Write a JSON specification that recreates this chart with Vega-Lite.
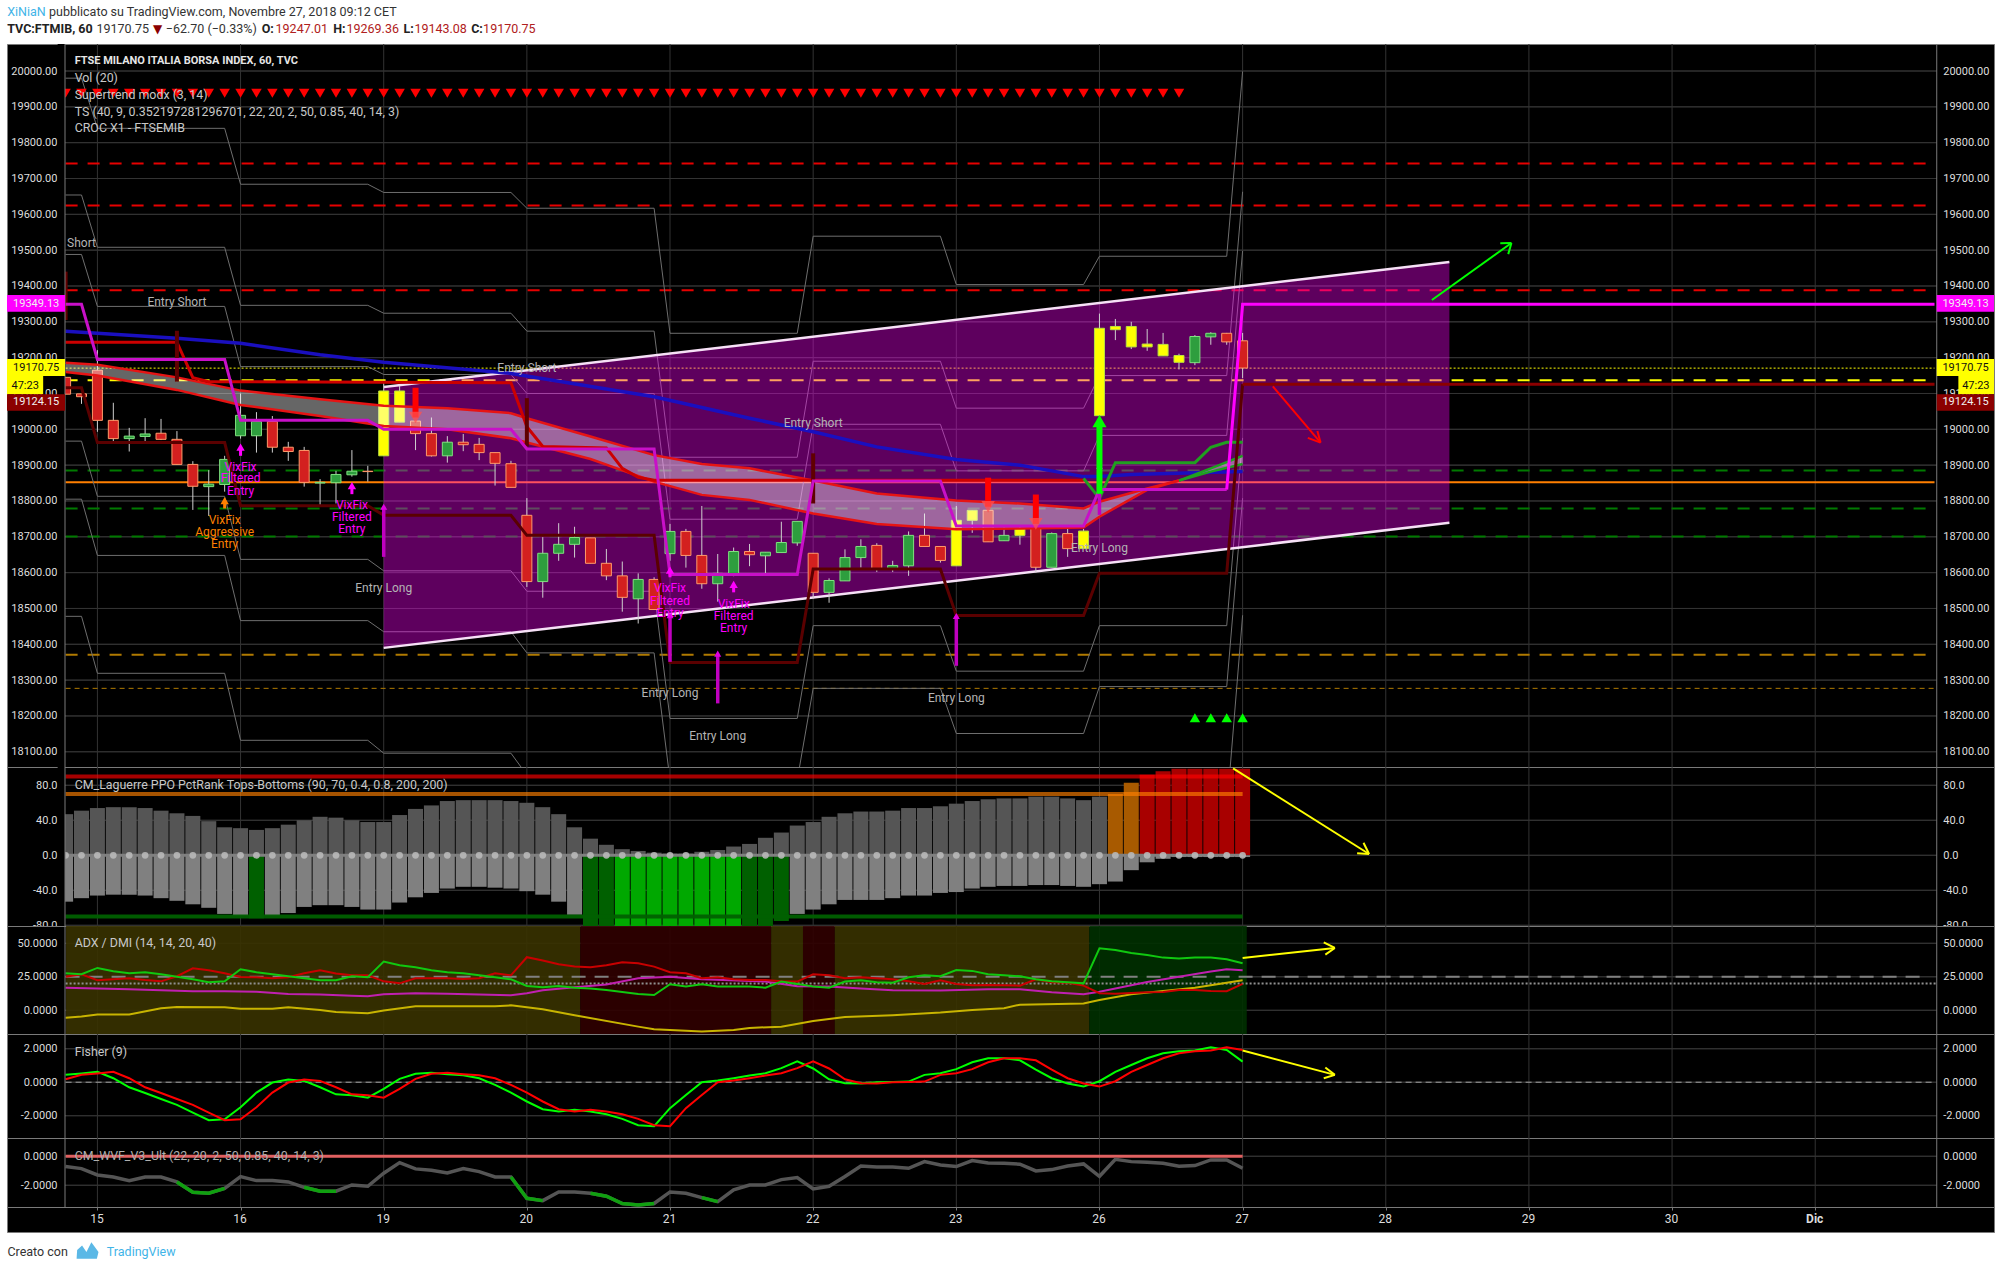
{"$schema":"https://vega.github.io/schema/vega-lite/v6.json","background":"#ffffff","padding":{"left":6,"top":0,"right":0,"bottom":0},"bounds":"flush","spacing":0,"resolve":{"scale":{"color":"independent","stroke":"independent"}},
"config":{"view":{"stroke":null},"axis":{"disable":true,"grid":false,"ticks":false,"domain":false,"labelFont":"Roboto","labelFontSize":11,"labelColor":"#dddddd","labelOverlap":false,"labelFlush":false,"title":null},"text":{"font":"Roboto","fontSize":12}},
"datasets":{
"days":[{"i":0},{"i":9},{"i":18},{"i":27},{"i":36},{"i":45},{"i":54},{"i":63},{"i":72},{"i":81},{"i":90},{"i":99},{"i":108}],
"edges":[{"i":-2.037},{"i":115.64}],
"mask":[{"a":-2.5,"b":-2.037}],
"mainTicks":[{"v":18100,"a":-2.037,"b":115.64},{"v":18200,"a":-2.037,"b":115.64},{"v":18300,"a":-2.037,"b":115.64},{"v":18400,"a":-2.037,"b":115.64},{"v":18500,"a":-2.037,"b":115.64},{"v":18600,"a":-2.037,"b":115.64},{"v":18700,"a":-2.037,"b":115.64},{"v":18800,"a":-2.037,"b":115.64},{"v":18900,"a":-2.037,"b":115.64},{"v":19000,"a":-2.037,"b":115.64},{"v":19100,"a":-2.037,"b":115.64},{"v":19200,"a":-2.037,"b":115.64},{"v":19300,"a":-2.037,"b":115.64},{"v":19400,"a":-2.037,"b":115.64},{"v":19500,"a":-2.037,"b":115.64},{"v":19600,"a":-2.037,"b":115.64},{"v":19700,"a":-2.037,"b":115.64},{"v":19800,"a":-2.037,"b":115.64},{"v":19900,"a":-2.037,"b":115.64},{"v":20000,"a":-2.037,"b":115.64}],
"pivots":[{"i":-2,"a":19980,"b":19654,"c":19488,"d":18967,"e":18805,"f":18478},{"i":-1,"a":19980,"b":19654,"c":19488,"d":18967,"e":18805,"f":18478},{"i":0,"a":19840,"b":19508,"c":19343,"d":18813,"e":18648,"f":18319},{"i":8,"a":19840,"b":19508,"c":19343,"d":18813,"e":18648,"f":18319},{"i":9,"a":19684,"b":19346,"c":19175,"d":18637,"e":18466,"f":18132},{"i":17,"a":19684,"b":19346,"c":19175,"d":18637,"e":18466,"f":18132},{"i":18,"a":19661,"b":19324,"c":19153,"d":18605,"e":18435,"f":18096},{"i":26,"a":19661,"b":19324,"c":19153,"d":18605,"e":18435,"f":18096},{"i":27,"a":19617,"b":19274,"c":19100,"d":18548,"e":18376,"f":18035},{"i":35,"a":19617,"b":19274,"c":19100,"d":18548,"e":18376,"f":18035},{"i":36,"a":19268,"b":18922,"c":18749,"d":18193,"e":18021,"f":17672},{"i":44,"a":19268,"b":18922,"c":18749,"d":18193,"e":18021,"f":17672},{"i":45,"a":19539,"b":19190,"c":19014,"d":18452,"e":18277,"f":17932},{"i":53,"a":19539,"b":19190,"c":19014,"d":18452,"e":18277,"f":17932},{"i":54,"a":19404,"b":19059,"c":18884,"d":18325,"e":18151,"f":17798},{"i":62,"a":19404,"b":19059,"c":18884,"d":18325,"e":18151,"f":17798},{"i":63,"a":19483,"b":19150,"c":18983,"d":18452,"e":18282,"f":17937},{"i":71,"a":19483,"b":19150,"c":18983,"d":18452,"e":18282,"f":17937},{"i":72,"a":19999,"b":19663,"c":19498,"d":18976,"e":18808,"f":18481}],
"channel":[{"i":18,"v":19118,"v2":18390},{"i":85,"v":19467,"v2":18739}],
"blue":[{"i":-2,"v":19274},{"i":5,"v":19254},{"i":9,"v":19240},{"i":14,"v":19208},{"i":18,"v":19187},{"i":26,"v":19156},{"i":35,"v":19091},{"i":41,"v":19031},{"i":45,"v":18993},{"i":49,"v":18951},{"i":54,"v":18916},{"i":58,"v":18900},{"i":62,"v":18868},{"i":63,"v":18868},{"i":65,"v":18874},{"i":72,"v":18882}],
"candles":[{"i":-2,"o":19145,"h":19145,"l":19098,"c":19098,"k":"down"},{"i":-1,"o":19099,"h":19099,"l":19071,"c":19091,"k":"down"},{"i":0,"o":19165,"h":19221,"l":18993,"c":19025,"k":"down"},{"i":1,"o":19025,"h":19074,"l":18966,"c":18974,"k":"down"},{"i":2,"o":18974,"h":19004,"l":18938,"c":18981,"k":"up"},{"i":3,"o":18980,"h":19031,"l":18967,"c":18987,"k":"up"},{"i":4,"o":18989,"h":19029,"l":18970,"c":18972,"k":"down"},{"i":5,"o":18972,"h":18995,"l":18902,"c":18902,"k":"down"},{"i":6,"o":18902,"h":18911,"l":18775,"c":18841,"k":"down"},{"i":7,"o":18840,"h":18886,"l":18758,"c":18847,"k":"up"},{"i":8,"o":18846,"h":18926,"l":18826,"c":18916,"k":"up"},{"i":9,"o":18982,"h":19100,"l":18974,"c":19039,"k":"up"},{"i":10,"o":18982,"h":19048,"l":18935,"c":19022,"k":"up"},{"i":11,"o":19022,"h":19037,"l":18935,"c":18950,"k":"down"},{"i":12,"o":18950,"h":18965,"l":18912,"c":18938,"k":"down"},{"i":13,"o":18941,"h":18951,"l":18840,"c":18852,"k":"down"},{"i":14,"o":18850,"h":18861,"l":18784,"c":18852,"k":"up"},{"i":15,"o":18851,"h":18884,"l":18793,"c":18874,"k":"up"},{"i":16,"o":18873,"h":18942,"l":18868,"c":18883,"k":"up"},{"i":17,"o":18883,"h":18898,"l":18854,"c":18882,"k":"down"},{"i":18,"o":18926,"h":19136,"l":18926,"c":19107,"k":"hi"},{"i":19,"o":19107,"h":19121,"l":19020,"c":19020,"k":"hi"},{"i":20,"o":19023,"h":19023,"l":18942,"c":18988,"k":"down"},{"i":21,"o":18988,"h":19033,"l":18924,"c":18926,"k":"down"},{"i":22,"o":18926,"h":18981,"l":18907,"c":18964,"k":"up"},{"i":23,"o":18964,"h":18987,"l":18939,"c":18957,"k":"down"},{"i":24,"o":18958,"h":18976,"l":18914,"c":18935,"k":"down"},{"i":25,"o":18935,"h":18935,"l":18843,"c":18905,"k":"down"},{"i":26,"o":18904,"h":18912,"l":18838,"c":18838,"k":"down"},{"i":27,"o":18760,"h":18808,"l":18560,"c":18575,"k":"down"},{"i":28,"o":18575,"h":18699,"l":18530,"c":18654,"k":"up"},{"i":29,"o":18654,"h":18738,"l":18633,"c":18679,"k":"up"},{"i":30,"o":18679,"h":18728,"l":18642,"c":18698,"k":"up"},{"i":31,"o":18697,"h":18697,"l":18626,"c":18626,"k":"down"},{"i":32,"o":18626,"h":18666,"l":18579,"c":18591,"k":"down"},{"i":33,"o":18591,"h":18631,"l":18491,"c":18531,"k":"down"},{"i":34,"o":18527,"h":18598,"l":18458,"c":18581,"k":"up"},{"i":35,"o":18581,"h":18587,"l":18497,"c":18497,"k":"down"},{"i":36,"o":18653,"h":18736,"l":18633,"c":18715,"k":"up"},{"i":37,"o":18715,"h":18722,"l":18614,"c":18648,"k":"down"},{"i":38,"o":18648,"h":18786,"l":18555,"c":18569,"k":"down"},{"i":39,"o":18569,"h":18652,"l":18519,"c":18598,"k":"up"},{"i":40,"o":18597,"h":18670,"l":18590,"c":18659,"k":"up"},{"i":41,"o":18659,"h":18680,"l":18618,"c":18650,"k":"down"},{"i":42,"o":18647,"h":18657,"l":18598,"c":18657,"k":"up"},{"i":43,"o":18656,"h":18742,"l":18656,"c":18684,"k":"up"},{"i":44,"o":18683,"h":18743,"l":18675,"c":18743,"k":"up"},{"i":45,"o":18654,"h":18654,"l":18528,"c":18545,"k":"down"},{"i":46,"o":18545,"h":18584,"l":18516,"c":18578,"k":"up"},{"i":47,"o":18577,"h":18665,"l":18577,"c":18642,"k":"up"},{"i":48,"o":18642,"h":18693,"l":18614,"c":18673,"k":"up"},{"i":49,"o":18676,"h":18682,"l":18602,"c":18610,"k":"down"},{"i":50,"o":18611,"h":18633,"l":18602,"c":18620,"k":"up"},{"i":51,"o":18619,"h":18715,"l":18591,"c":18704,"k":"up"},{"i":52,"o":18704,"h":18765,"l":18673,"c":18673,"k":"down"},{"i":53,"o":18673,"h":18673,"l":18628,"c":18634,"k":"down"},{"i":54,"o":18619,"h":18786,"l":18619,"c":18746,"k":"hi"},{"i":55,"o":18746,"h":18774,"l":18711,"c":18774,"k":"hi"},{"i":56,"o":18774,"h":18774,"l":18686,"c":18686,"k":"down"},{"i":57,"o":18689,"h":18726,"l":18689,"c":18704,"k":"up"},{"i":58,"o":18704,"h":18730,"l":18678,"c":18722,"k":"hi"},{"i":59,"o":18726,"h":18728,"l":18600,"c":18615,"k":"down"},{"i":60,"o":18615,"h":18712,"l":18615,"c":18709,"k":"up"},{"i":61,"o":18709,"h":18728,"l":18644,"c":18667,"k":"down"},{"i":62,"o":18667,"h":18722,"l":18667,"c":18716,"k":"hi"},{"i":63,"o":19038,"h":19323,"l":19038,"c":19282,"k":"hi"},{"i":64,"o":19278,"h":19308,"l":19249,"c":19287,"k":"hi"},{"i":65,"o":19287,"h":19300,"l":19224,"c":19230,"k":"hi"},{"i":66,"o":19230,"h":19280,"l":19219,"c":19238,"k":"hi"},{"i":67,"o":19237,"h":19269,"l":19205,"c":19205,"k":"hi"},{"i":68,"o":19206,"h":19211,"l":19167,"c":19187,"k":"hi"},{"i":69,"o":19186,"h":19263,"l":19179,"c":19259,"k":"up"},{"i":70,"o":19258,"h":19271,"l":19236,"c":19268,"k":"up"},{"i":71,"o":19268,"h":19269,"l":19236,"c":19244,"k":"down"},{"i":72,"o":19247,"h":19269,"l":19143,"c":19171,"k":"down"}],
"band":[{"i":-2,"top":19186,"bot":19160},{"i":0,"top":19180,"bot":19150},{"i":5,"top":19145,"bot":19110},{"i":9,"top":19108,"bot":19068},{"i":14,"top":19084,"bot":19037},{"i":18,"top":19066,"bot":19009},{"i":22,"top":19059,"bot":19000},{"i":26,"top":19045,"bot":18975},{"i":27,"top":19031,"bot":18963},{"i":31,"top":18980,"bot":18917},{"i":35,"top":18928,"bot":18854},{"i":38,"top":18903,"bot":18817},{"i":41,"top":18891,"bot":18803},{"i":45,"top":18857,"bot":18765},{"i":49,"top":18821,"bot":18736},{"i":54,"top":18801,"bot":18721},{"i":58,"top":18793,"bot":18723},{"i":62,"top":18779,"bot":18726},{"i":63,"top":18798,"bot":18756},{"i":66,"top":18835,"bot":18831},{"i":68,"top":18857,"bot":18857},{"i":70,"top":18891,"bot":18882},{"i":72,"top":18926,"bot":18903}],
"red":[{"i":-2,"v":19243},{"i":5,"v":19243},{"i":6,"v":19144},{"i":7,"v":19133},{"i":26,"v":19130},{"i":27,"v":19007},{"i":28,"v":18952},{"i":32,"v":18948},{"i":33,"v":18891},{"i":34,"v":18866},{"i":35,"v":18858},{"i":62,"v":18858}],
"green":[{"i":62,"v":18863},{"i":63,"v":18807},{"i":64,"v":18907},{"i":69,"v":18907},{"i":70,"v":18950},{"i":71,"v":18964},{"i":72,"v":18964}],
"maroon":[{"i":-2,"v":19116},{"i":-1,"v":19116},{"i":0,"v":18963},{"i":8,"v":18963},{"i":9,"v":18787},{"i":17,"v":18787},{"i":18,"v":18760},{"i":26,"v":18760},{"i":27,"v":18704},{"i":35,"v":18704},{"i":36,"v":18349},{"i":44,"v":18349},{"i":45,"v":18610},{"i":53,"v":18610},{"i":54,"v":18480},{"i":62,"v":18480},{"i":63,"v":18598},{"i":71,"v":18598},{"i":72,"v":19126},{"i":115.5,"v":19126}],
"magenta":[{"i":-2,"v":19349},{"i":-1,"v":19349},{"i":0,"v":19195},{"i":8,"v":19195},{"i":9,"v":19025},{"i":17,"v":19025},{"i":18,"v":19000},{"i":26,"v":19000},{"i":27,"v":18945},{"i":35,"v":18945},{"i":36,"v":18595},{"i":44,"v":18595},{"i":45,"v":18856},{"i":53,"v":18856},{"i":54,"v":18730},{"i":62,"v":18730},{"i":63,"v":18832},{"i":71,"v":18832},{"i":72,"v":19349},{"i":115.5,"v":19349}],
"darkArrows":[{"i":-2,"v":19440,"v2":19305},{"i":5,"v":19275,"v2":19133},{"i":27,"v":19087,"v2":18952},{"i":45,"v":18933,"v2":18793}],
"upArrows":[{"i":18,"v":18784,"v2":18644},{"i":36,"v":18481,"v2":18351},{"i":39,"v":18374,"v2":18235},{"i":54,"v":18479,"v2":18340},{"i":63,"v":18898,"v2":18761}],
"redArrows":[{"i":20,"v":19116,"v2":19033},{"i":56,"v":18865,"v2":18784},{"i":59,"v":18818,"v2":18736}],
"bigGreen":[{"i":63,"v":19023,"v2":18820}],
"smallUp":[{"i":9,"v":18950,"v2":18926},{"i":16,"v":18843,"v2":18819},{"i":36,"v":18607,"v2":18587},{"i":40,"v":18567,"v2":18545}],
"smallOrange":[{"i":8,"v":18801,"v2":18779}],
"topTri":[{"i":-2,"v":19938},{"i":-1,"v":19938},{"i":0,"v":19938},{"i":1,"v":19938},{"i":2,"v":19938},{"i":3,"v":19938},{"i":4,"v":19938},{"i":5,"v":19938},{"i":6,"v":19938},{"i":7,"v":19938},{"i":8,"v":19938},{"i":9,"v":19938},{"i":10,"v":19938},{"i":11,"v":19938},{"i":12,"v":19938},{"i":13,"v":19938},{"i":14,"v":19938},{"i":15,"v":19938},{"i":16,"v":19938},{"i":17,"v":19938},{"i":18,"v":19938},{"i":19,"v":19938},{"i":20,"v":19938},{"i":21,"v":19938},{"i":22,"v":19938},{"i":23,"v":19938},{"i":24,"v":19938},{"i":25,"v":19938},{"i":26,"v":19938},{"i":27,"v":19938},{"i":28,"v":19938},{"i":29,"v":19938},{"i":30,"v":19938},{"i":31,"v":19938},{"i":32,"v":19938},{"i":33,"v":19938},{"i":34,"v":19938},{"i":35,"v":19938},{"i":36,"v":19938},{"i":37,"v":19938},{"i":38,"v":19938},{"i":39,"v":19938},{"i":40,"v":19938},{"i":41,"v":19938},{"i":42,"v":19938},{"i":43,"v":19938},{"i":44,"v":19938},{"i":45,"v":19938},{"i":46,"v":19938},{"i":47,"v":19938},{"i":48,"v":19938},{"i":49,"v":19938},{"i":50,"v":19938},{"i":51,"v":19938},{"i":52,"v":19938},{"i":53,"v":19938},{"i":54,"v":19938},{"i":55,"v":19938},{"i":56,"v":19938},{"i":57,"v":19938},{"i":58,"v":19938},{"i":59,"v":19938},{"i":60,"v":19938},{"i":61,"v":19938},{"i":62,"v":19938},{"i":63,"v":19938},{"i":64,"v":19938},{"i":65,"v":19938},{"i":66,"v":19938},{"i":67,"v":19938},{"i":68,"v":19938}],
"grayText":[{"i":5,"v":19356,"t":"Entry Short"},{"i":27,"v":19170,"t":"Entry Short"},{"i":45,"v":19017,"t":"Entry Short"},{"i":-1,"v":19521,"t":"Short"},{"i":18,"v":18556,"t":"Entry Long"},{"i":36,"v":18263,"t":"Entry Long"},{"i":39,"v":18145,"t":"Entry Long"},{"i":54,"v":18251,"t":"Entry Long"},{"i":63,"v":18670,"t":"Entry Long"}],
"vixText":[{"i":9,"v":18894,"t":"VixFix"},{"i":9,"v":18863,"t":"Filtered"},{"i":9,"v":18829,"t":"Entry"},{"i":16,"v":18789,"t":"VixFix"},{"i":16,"v":18756,"t":"Filtered"},{"i":16,"v":18723,"t":"Entry"},{"i":36,"v":18556,"t":"VixFix"},{"i":36,"v":18522,"t":"Filtered"},{"i":36,"v":18488,"t":"Entry"},{"i":40,"v":18513,"t":"VixFix"},{"i":40,"v":18480,"t":"Filtered"},{"i":40,"v":18446,"t":"Entry"}],
"orangeText":[{"i":8,"v":18747,"t":"VixFix"},{"i":8,"v":18713,"t":"Aggressive"},{"i":8,"v":18681,"t":"Entry"}],
"legendMain":[{"i":-1.43,"v":19981,"t":"Vol (20)"},{"i":-1.43,"v":19934,"t":"Supertrend modx (3, 14)"},{"i":-1.43,"v":19886,"t":"TS (40, 9, 0.352197281296701, 22, 20, 2, 50, 0.85, 40, 14, 3)"},{"i":-1.43,"v":19840,"t":"CROC X1 - FTSEMIB"}],
"boxes":[{"a":-5.684,"b":-2.037,"top":19375,"bot":19328,"k":"mag"},{"a":-5.684,"b":-2.037,"top":19196,"bot":19149,"k":"yel"},{"a":-5.684,"b":-3.41,"top":19149,"bot":19098,"k":"yel"},{"a":-5.684,"b":-2.037,"top":19098,"bot":19052,"k":"mar"},{"a":115.64,"b":119.24,"top":19375,"bot":19328,"k":"mag"},{"a":115.64,"b":119.24,"top":19196,"bot":19149,"k":"yel"},{"a":117.0,"b":119.24,"top":19149,"bot":19098,"k":"yel"},{"a":115.64,"b":119.24,"top":19098,"bot":19052,"k":"mar"}],
"boxText":[{"i":-3.85,"v":19351,"t":"19349.13","k":"tw"},{"i":-3.85,"v":19172,"t":"19170.75","k":"tk"},{"i":-4.54,"v":19122,"t":"47:23","k":"tk"},{"i":-3.85,"v":19075,"t":"19124.15","k":"tw"},{"i":117.45,"v":19351,"t":"19349.13","k":"tw"},{"i":117.45,"v":19172,"t":"19170.75","k":"tk"},{"i":118.1,"v":19122,"t":"47:23","k":"tk"},{"i":117.45,"v":19075,"t":"19124.15","k":"tw"}],
"arrowGreen":[{"i":83.9,"x2":88.9,"v":19361,"v2":19520},{"i":88.2,"x2":88.9,"v":19519,"v2":19520},{"i":88.7,"x2":88.9,"v":19489,"v2":19520}],
"arrowRed":[{"i":73.9,"x2":76.9,"v":19120,"v2":18963},{"i":76.1,"x2":76.9,"v":18976,"v2":18963},{"i":76.7,"x2":76.9,"v":18995,"v2":18963}],
"lag":[{"i":-2,"up":47,"dn":-53,"us":"gray","ds":"light"},{"i":-1,"up":51,"dn":-49,"us":"gray","ds":"light"},{"i":0,"up":54,"dn":-46,"us":"gray","ds":"light"},{"i":1,"up":55,"dn":-45,"us":"gray","ds":"light"},{"i":2,"up":55,"dn":-45,"us":"gray","ds":"light"},{"i":3,"up":54,"dn":-46,"us":"gray","ds":"light"},{"i":4,"up":51,"dn":-49,"us":"gray","ds":"light"},{"i":5,"up":48,"dn":-52,"us":"gray","ds":"light"},{"i":6,"up":45,"dn":-56,"us":"gray","ds":"light"},{"i":7,"up":39,"dn":-60,"us":"gray","ds":"light"},{"i":8,"up":32,"dn":-67,"us":"gray","ds":"light"},{"i":9,"up":31,"dn":-69,"us":"gray","ds":"light"},{"i":10,"up":29,"dn":-72,"us":"gray","ds":"dark"},{"i":11,"up":31,"dn":-69,"us":"gray","ds":"light"},{"i":12,"up":35,"dn":-66,"us":"gray","ds":"light"},{"i":13,"up":40,"dn":-59,"us":"gray","ds":"light"},{"i":14,"up":44,"dn":-57,"us":"gray","ds":"light"},{"i":15,"up":43,"dn":-57,"us":"gray","ds":"light"},{"i":16,"up":40,"dn":-59,"us":"gray","ds":"light"},{"i":17,"up":38,"dn":-62,"us":"gray","ds":"light"},{"i":18,"up":38,"dn":-62,"us":"gray","ds":"light"},{"i":19,"up":46,"dn":-54,"us":"gray","ds":"light"},{"i":20,"up":53,"dn":-48,"us":"gray","ds":"light"},{"i":21,"up":57,"dn":-43,"us":"gray","ds":"light"},{"i":22,"up":62,"dn":-38,"us":"gray","ds":"light"},{"i":23,"up":63,"dn":-36,"us":"gray","ds":"light"},{"i":24,"up":63,"dn":-36,"us":"gray","ds":"light"},{"i":25,"up":63,"dn":-37,"us":"gray","ds":"light"},{"i":26,"up":62,"dn":-38,"us":"gray","ds":"light"},{"i":27,"up":60,"dn":-41,"us":"gray","ds":"light"},{"i":28,"up":55,"dn":-45,"us":"gray","ds":"light"},{"i":29,"up":47,"dn":-53,"us":"gray","ds":"light"},{"i":30,"up":32,"dn":-68,"us":"gray","ds":"light"},{"i":31,"up":19,"dn":-85,"us":"gray","ds":"dark"},{"i":32,"up":12,"dn":-85,"us":"gray","ds":"dark"},{"i":33,"up":7,"dn":-85,"us":"gray","ds":"bright"},{"i":34,"up":5,"dn":-85,"us":"gray","ds":"bright"},{"i":35,"up":3,"dn":-85,"us":"gray","ds":"bright"},{"i":36,"up":2,"dn":-85,"us":"gray","ds":"bright"},{"i":37,"up":2,"dn":-85,"us":"gray","ds":"bright"},{"i":38,"up":4,"dn":-85,"us":"gray","ds":"bright"},{"i":39,"up":6,"dn":-85,"us":"gray","ds":"bright"},{"i":40,"up":10,"dn":-85,"us":"gray","ds":"bright"},{"i":41,"up":13,"dn":-85,"us":"gray","ds":"dark"},{"i":42,"up":20,"dn":-85,"us":"gray","ds":"dark"},{"i":43,"up":26,"dn":-75,"us":"gray","ds":"dark"},{"i":44,"up":34,"dn":-67,"us":"gray","ds":"light"},{"i":45,"up":38,"dn":-62,"us":"gray","ds":"light"},{"i":46,"up":44,"dn":-56,"us":"gray","ds":"light"},{"i":47,"up":48,"dn":-51,"us":"gray","ds":"light"},{"i":48,"up":50,"dn":-51,"us":"gray","ds":"light"},{"i":49,"up":50,"dn":-51,"us":"gray","ds":"light"},{"i":50,"up":51,"dn":-49,"us":"gray","ds":"light"},{"i":51,"up":54,"dn":-46,"us":"gray","ds":"light"},{"i":52,"up":54,"dn":-46,"us":"gray","ds":"light"},{"i":53,"up":56,"dn":-43,"us":"gray","ds":"light"},{"i":54,"up":59,"dn":-42,"us":"gray","ds":"light"},{"i":55,"up":62,"dn":-38,"us":"gray","ds":"light"},{"i":56,"up":64,"dn":-36,"us":"gray","ds":"light"},{"i":57,"up":65,"dn":-35,"us":"gray","ds":"light"},{"i":58,"up":65,"dn":-35,"us":"gray","ds":"light"},{"i":59,"up":67,"dn":-34,"us":"gray","ds":"light"},{"i":60,"up":67,"dn":-34,"us":"gray","ds":"light"},{"i":61,"up":65,"dn":-35,"us":"gray","ds":"light"},{"i":62,"up":63,"dn":-36,"us":"gray","ds":"light"},{"i":63,"up":67,"dn":-33,"us":"gray","ds":"light"},{"i":64,"up":70,"dn":-30,"us":"orange","ds":"light"},{"i":65,"up":83,"dn":-17,"us":"orange","ds":"light"},{"i":66,"up":92,"dn":-8,"us":"red","ds":"light"},{"i":67,"up":96,"dn":-4,"us":"red","ds":"light"},{"i":68,"up":99,"dn":-2,"us":"red","ds":"light"},{"i":69,"up":99,"dn":-2,"us":"red","ds":"light"},{"i":70,"up":99,"dn":-2,"us":"red","ds":"light"},{"i":71,"up":99,"dn":-2,"us":"red","ds":"light"},{"i":72,"up":99,"dn":-2,"us":"red","ds":"light"}],
"lagDots":[{"i":-2,"v":0},{"i":-1,"v":0},{"i":0,"v":0},{"i":1,"v":0},{"i":2,"v":0},{"i":3,"v":0},{"i":4,"v":0},{"i":5,"v":0},{"i":6,"v":0},{"i":7,"v":0},{"i":8,"v":0},{"i":9,"v":0},{"i":10,"v":0},{"i":11,"v":0},{"i":12,"v":0},{"i":13,"v":0},{"i":14,"v":0},{"i":15,"v":0},{"i":16,"v":0},{"i":17,"v":0},{"i":18,"v":0},{"i":19,"v":0},{"i":20,"v":0},{"i":21,"v":0},{"i":22,"v":0},{"i":23,"v":0},{"i":24,"v":0},{"i":25,"v":0},{"i":26,"v":0},{"i":27,"v":0},{"i":28,"v":0},{"i":29,"v":0},{"i":30,"v":0},{"i":31,"v":0},{"i":32,"v":0},{"i":33,"v":0},{"i":34,"v":0},{"i":35,"v":0},{"i":36,"v":0},{"i":37,"v":0},{"i":38,"v":0},{"i":39,"v":0},{"i":40,"v":0},{"i":41,"v":0},{"i":42,"v":0},{"i":43,"v":0},{"i":44,"v":0},{"i":45,"v":0},{"i":46,"v":0},{"i":47,"v":0},{"i":48,"v":0},{"i":49,"v":0},{"i":50,"v":0},{"i":51,"v":0},{"i":52,"v":0},{"i":53,"v":0},{"i":54,"v":0},{"i":55,"v":0},{"i":56,"v":0},{"i":57,"v":0},{"i":58,"v":0},{"i":59,"v":0},{"i":60,"v":0},{"i":61,"v":0},{"i":62,"v":0},{"i":63,"v":0},{"i":64,"v":0},{"i":65,"v":0},{"i":66,"v":0},{"i":67,"v":0},{"i":68,"v":0},{"i":69,"v":0},{"i":70,"v":0},{"i":71,"v":0},{"i":72,"v":0}],
"adxBg":[{"a":-1.97,"b":30.36,"s":"olive"},{"a":30.36,"b":42.36,"s":"red"},{"a":42.36,"b":44.36,"s":"olive"},{"a":44.36,"b":46.36,"s":"red"},{"a":46.36,"b":62.36,"s":"olive"},{"a":62.36,"b":72.26,"s":"green"}],
"adx":[{"i":-2,"g":27.6,"r":25.1},{"i":-1,"g":26.9,"r":26.9},{"i":0,"g":31.6,"r":22.4},{"i":1,"g":29.1,"r":23.1},{"i":2,"g":27.6,"r":23.9},{"i":3,"g":28.4,"r":22.6},{"i":4,"g":26.9,"r":21.6},{"i":5,"g":25.1,"r":25.4},{"i":6,"g":23.1,"r":31.3},{"i":7,"g":20.9,"r":29.9},{"i":8,"g":21.6,"r":27.6},{"i":9,"g":30.6,"r":24.9},{"i":10,"g":28.4,"r":24.6},{"i":11,"g":26.9,"r":23.9},{"i":12,"g":25.4,"r":24.6},{"i":13,"g":23.9,"r":27.6},{"i":14,"g":22.4,"r":29.9},{"i":15,"g":22.4,"r":27.4},{"i":16,"g":25.4,"r":26.1},{"i":17,"g":24.6,"r":26.1},{"i":18,"g":36.3,"r":21.6},{"i":19,"g":33.6,"r":20.1},{"i":20,"g":32.1,"r":23.9},{"i":21,"g":29.9,"r":23.9},{"i":22,"g":28.4,"r":23.9},{"i":23,"g":27.6,"r":23.4},{"i":24,"g":26.1,"r":23.9},{"i":25,"g":24.6,"r":27.6},{"i":26,"g":23.1,"r":26.1},{"i":27,"g":18.2,"r":39.6},{"i":28,"g":17.2,"r":37.1},{"i":29,"g":18.2,"r":34.3},{"i":30,"g":16.9,"r":32.6},{"i":31,"g":16.2,"r":32.1},{"i":32,"g":15.2,"r":33.6},{"i":33,"g":13.7,"r":35.8},{"i":34,"g":12.2,"r":35.1},{"i":35,"g":11.4,"r":32.6},{"i":36,"g":19.4,"r":28.4},{"i":37,"g":17.7,"r":27.6},{"i":38,"g":19.4,"r":23.9},{"i":39,"g":17.7,"r":24.6},{"i":40,"g":17.7,"r":23.1},{"i":41,"g":17.7,"r":22.6},{"i":42,"g":16.9,"r":22.6},{"i":43,"g":21.4,"r":21.6},{"i":44,"g":19.7,"r":21.4},{"i":45,"g":17.7,"r":26.9},{"i":46,"g":16.9,"r":26.1},{"i":47,"g":21.4,"r":23.9},{"i":48,"g":22.4,"r":24.6},{"i":49,"g":20.9,"r":23.9},{"i":50,"g":20.6,"r":23.1},{"i":51,"g":24.6,"r":21.6},{"i":52,"g":26.1,"r":19.7},{"i":53,"g":25.4,"r":22.4},{"i":54,"g":30.1,"r":19.7},{"i":55,"g":29.4,"r":18.7},{"i":56,"g":26.9,"r":18.9},{"i":57,"g":26.1,"r":18.7},{"i":58,"g":25.4,"r":18.4},{"i":59,"g":23.1,"r":23.1},{"i":60,"g":21.6,"r":20.9},{"i":61,"g":20.9,"r":20.6},{"i":62,"g":20.1,"r":18.4},{"i":63,"g":46.3,"r":12.7},{"i":64,"g":45.0,"r":12.4},{"i":65,"g":42.8,"r":12.9},{"i":66,"g":41.3,"r":13.4},{"i":67,"g":39.3,"r":13.7},{"i":68,"g":38.6,"r":15.2},{"i":69,"g":39.3,"r":15.2},{"i":70,"g":39.3,"r":14.4},{"i":71,"g":38.1,"r":14.2},{"i":72,"g":35.1,"r":19.7}],
"adxM":[{"i":-2,"v":16.9},{"i":0,"v":16.2},{"i":2,"v":15.7},{"i":4,"v":14.9},{"i":6,"v":14.2},{"i":8,"v":14.2},{"i":10,"v":13.9},{"i":12,"v":12.2},{"i":14,"v":11.7},{"i":16,"v":10.9},{"i":17,"v":10.4},{"i":18,"v":11.9},{"i":20,"v":12.7},{"i":22,"v":12.4},{"i":24,"v":11.7},{"i":26,"v":11.2},{"i":27,"v":12.7},{"i":28,"v":14.9},{"i":30,"v":17.2},{"i":32,"v":19.2},{"i":34,"v":23.9},{"i":36,"v":25.1},{"i":38,"v":23.1},{"i":42,"v":21.4},{"i":44,"v":17.9},{"i":46,"v":17.7},{"i":48,"v":16.2},{"i":50,"v":14.9},{"i":53,"v":14.7},{"i":56,"v":15.7},{"i":58,"v":15.7},{"i":60,"v":13.4},{"i":62,"v":11.9},{"i":63,"v":13.9},{"i":66,"v":21.1},{"i":70,"v":28.9},{"i":71,"v":30.6},{"i":72,"v":29.9}],
"adxY":[{"i":-2,"v":-5.5},{"i":-1,"v":-4.7},{"i":0,"v":-3.2},{"i":2,"v":-3.2},{"i":4,"v":1.5},{"i":5,"v":2.5},{"i":8,"v":2.2},{"i":9,"v":1.2},{"i":11,"v":1.2},{"i":12,"v":2.2},{"i":14,"v":0.2},{"i":15,"v":-1.2},{"i":17,"v":-2.2},{"i":18,"v":-0.2},{"i":20,"v":3},{"i":25,"v":3},{"i":26,"v":3.7},{"i":28,"v":0.7},{"i":30,"v":-3.7},{"i":34,"v":-12.2},{"i":35,"v":-14.2},{"i":38,"v":-15.9},{"i":40,"v":-14.7},{"i":41,"v":-13.2},{"i":43,"v":-12.2},{"i":45,"v":-8},{"i":47,"v":-5},{"i":50,"v":-3.7},{"i":53,"v":-1.7},{"i":55,"v":0.2},{"i":57,"v":1.5},{"i":58,"v":4.2},{"i":62,"v":5},{"i":63,"v":7.7},{"i":65,"v":11.9},{"i":69,"v":16.9},{"i":72,"v":22.4}],
"fisher":[{"i":-2,"g":0.44,"r":0.18},{"i":-1,"g":0.52,"r":0.44},{"i":0,"g":0.62,"r":0.52},{"i":1,"g":0.24,"r":0.62},{"i":2,"g":-0.30,"r":0.24},{"i":3,"g":-0.64,"r":-0.30},{"i":4,"g":-1.00,"r":-0.64},{"i":5,"g":-1.35,"r":-1.00},{"i":6,"g":-1.81,"r":-1.35},{"i":7,"g":-2.27,"r":-1.81},{"i":8,"g":-2.21,"r":-2.27},{"i":9,"g":-1.49,"r":-2.21},{"i":10,"g":-0.62,"r":-1.49},{"i":11,"g":-0.02,"r":-0.62},{"i":12,"g":0.16,"r":-0.02},{"i":13,"g":0.08,"r":0.16},{"i":14,"g":-0.30,"r":0.08},{"i":15,"g":-0.72,"r":-0.30},{"i":16,"g":-0.78,"r":-0.72},{"i":17,"g":-0.92,"r":-0.78},{"i":18,"g":-0.40,"r":-0.92},{"i":19,"g":0.20,"r":-0.40},{"i":20,"g":0.50,"r":0.20},{"i":21,"g":0.56,"r":0.50},{"i":22,"g":0.48,"r":0.56},{"i":23,"g":0.42,"r":0.48},{"i":24,"g":0.24,"r":0.42},{"i":25,"g":-0.16,"r":0.24},{"i":26,"g":-0.62,"r":-0.16},{"i":27,"g":-1.15,"r":-0.62},{"i":28,"g":-1.61,"r":-1.15},{"i":29,"g":-1.75,"r":-1.61},{"i":30,"g":-1.65,"r":-1.75},{"i":31,"g":-1.75,"r":-1.65},{"i":32,"g":-1.91,"r":-1.75},{"i":33,"g":-2.19,"r":-1.91},{"i":34,"g":-2.57,"r":-2.19},{"i":35,"g":-2.63,"r":-2.57},{"i":36,"g":-1.55,"r":-2.63},{"i":37,"g":-0.76,"r":-1.55},{"i":38,"g":0,"r":-0.76},{"i":39,"g":0.10,"r":0},{"i":40,"g":0.24,"r":0.10},{"i":41,"g":0.40,"r":0.24},{"i":42,"g":0.54,"r":0.40},{"i":43,"g":0.84,"r":0.54},{"i":44,"g":1.25,"r":0.84},{"i":45,"g":0.82,"r":1.25},{"i":46,"g":0.18,"r":0.82},{"i":47,"g":-0.06,"r":0.18},{"i":48,"g":-0.08,"r":-0.06},{"i":49,"g":0,"r":-0.08},{"i":50,"g":0.02,"r":0},{"i":51,"g":0.04,"r":0.02},{"i":52,"g":0.44,"r":0.04},{"i":53,"g":0.54,"r":0.44},{"i":54,"g":0.78,"r":0.54},{"i":55,"g":1.19,"r":0.78},{"i":56,"g":1.43,"r":1.19},{"i":57,"g":1.43,"r":1.43},{"i":58,"g":1.31,"r":1.43},{"i":59,"g":0.76,"r":1.31},{"i":60,"g":0.24,"r":0.76},{"i":61,"g":-0.08,"r":0.24},{"i":62,"g":-0.26,"r":-0.08},{"i":63,"g":0.06,"r":-0.26},{"i":64,"g":0.62,"r":0.06},{"i":65,"g":1.03,"r":0.62},{"i":66,"g":1.43,"r":1.03},{"i":67,"g":1.73,"r":1.43},{"i":68,"g":1.85,"r":1.73},{"i":69,"g":1.89,"r":1.85},{"i":70,"g":2.09,"r":1.89},{"i":71,"g":1.93,"r":2.09},{"i":72,"g":1.23,"r":1.93}],
"wvf":[{"i":-2,"v":-0.71},{"i":-1,"v":-0.85},{"i":0,"v":-1.29},{"i":1,"v":-1.43},{"i":2,"v":-1.68},{"i":3,"v":-1.43},{"i":4,"v":-1.43},{"i":5,"v":-1.77},{"i":6,"v":-2.48},{"i":7,"v":-2.55},{"i":8,"v":-2.21},{"i":9,"v":-1.40},{"i":10,"v":-1.68},{"i":11,"v":-1.68},{"i":12,"v":-1.77},{"i":13,"v":-2.14},{"i":14,"v":-2.41},{"i":15,"v":-2.41},{"i":16,"v":-1.98},{"i":17,"v":-2.07},{"i":18,"v":-1.17},{"i":19,"v":-0.44},{"i":20,"v":-0.87},{"i":21,"v":-0.97},{"i":22,"v":-1.15},{"i":23,"v":-0.85},{"i":24,"v":-1.06},{"i":25,"v":-1.43},{"i":26,"v":-1.43},{"i":27,"v":-2.90},{"i":28,"v":-3.06},{"i":29,"v":-2.46},{"i":30,"v":-2.46},{"i":31,"v":-2.55},{"i":32,"v":-2.76},{"i":33,"v":-3.26},{"i":34,"v":-3.36},{"i":35,"v":-3.26},{"i":36,"v":-2.46},{"i":37,"v":-2.55},{"i":38,"v":-2.85},{"i":39,"v":-3.13},{"i":40,"v":-2.32},{"i":41,"v":-1.98},{"i":42,"v":-1.98},{"i":43,"v":-1.61},{"i":44,"v":-1.47},{"i":45,"v":-2.25},{"i":46,"v":-2.07},{"i":47,"v":-1.40},{"i":48,"v":-0.67},{"i":49,"v":-0.74},{"i":50,"v":-0.74},{"i":51,"v":-0.83},{"i":52,"v":-0.37},{"i":53,"v":-0.60},{"i":54,"v":-0.71},{"i":55,"v":-0.30},{"i":56,"v":-0.46},{"i":57,"v":-0.48},{"i":58,"v":-0.55},{"i":59,"v":-1.01},{"i":60,"v":-0.92},{"i":61,"v":-0.67},{"i":62,"v":-0.53},{"i":63,"v":-1.38},{"i":64,"v":-0.21},{"i":65,"v":-0.37},{"i":66,"v":-0.41},{"i":67,"v":-0.48},{"i":68,"v":-0.69},{"i":69,"v":-0.64},{"i":70,"v":-0.25},{"i":71,"v":-0.25},{"i":72,"v":-0.83}],
"wvfG":[{"i":5,"v":-1.77,"s":"a"},{"i":6,"v":-2.48,"s":"a"},{"i":7,"v":-2.55,"s":"a"},{"i":8,"v":-2.21,"s":"a"},{"i":13,"v":-2.14,"s":"b"},{"i":14,"v":-2.41,"s":"b"},{"i":15,"v":-2.41,"s":"b"},{"i":26,"v":-1.43,"s":"c"},{"i":27,"v":-2.90,"s":"c"},{"i":28,"v":-3.06,"s":"c"},{"i":31,"v":-2.55,"s":"d"},{"i":32,"v":-2.76,"s":"d"},{"i":33,"v":-3.26,"s":"d"},{"i":34,"v":-3.36,"s":"d"},{"i":35,"v":-3.26,"s":"d"},{"i":38,"v":-2.85,"s":"e"},{"i":39,"v":-3.13,"s":"e"}]
},
"vconcat":[
{"width":1987,"height":44,"view":{"stroke":null,"fill":null},
"encoding":{"x":{"field":"i","type":"quantitative","scale":{"domain":[-5.684,119.24],"nice":false,"zero":false},"title":null},"y":{"field":"v","type":"quantitative","scale":{"domain":[44,0],"nice":false,"zero":false},"title":null},"text":{"field":"t"}},
"layer":[
{"data":{"values":[{"i":-5.67,"v":12,"t":"XiNiaN"}]},"mark":{"type":"text","align":"left","color":"#3fb4e8","fontSize":12.5}},
{"data":{"values":[{"i":-3.04,"v":12,"t":"pubblicato su TradingView.com, Novembre 27, 2018 09:12 CET"},{"i":-0.06,"v":29,"t":"19170.75"},{"i":4.3,"v":29,"t":"−62.70 (−0.33%)"}]},"mark":{"type":"text","align":"left","color":"#333333","fontSize":12.5}},
{"data":{"values":[{"i":-5.67,"v":29,"t":"TVC:FTMIB, 60"},{"i":10.33,"v":29,"t":"O:"},{"i":14.82,"v":29,"t":"H:"},{"i":19.24,"v":29,"t":"L:"},{"i":23.5,"v":29,"t":"C:"}]},"mark":{"type":"text","align":"left","color":"#222222","fontSize":12.5,"fontWeight":"bold"}},
{"data":{"values":[{"i":3.49,"v":29,"t":"▼"}]},"mark":{"type":"text","align":"left","color":"#8b0000","fontSize":12,"font":"DejaVu Sans"}},
{"data":{"values":[{"i":11.2,"v":29,"t":"19247.01"},{"i":15.66,"v":29,"t":"19269.36"},{"i":19.93,"v":29,"t":"19143.08"},{"i":24.25,"v":29,"t":"19170.75"}]},"mark":{"type":"text","align":"left","color":"#b02020","fontSize":12.5}}
]},
{"width":1987,"height":723,"view":{"fill":"#000000","stroke":"#7a7a7a"},"resolve":{"scale":{"y":"independent"},"axis":{"y":"independent"}},
"encoding":{"x":{"field":"i","type":"quantitative","scale":{"domain":[-5.684,119.24],"nice":false,"zero":false,"padding":0},"title":null},"y":{"field":"v","type":"quantitative","scale":{"domain":[18057.5,20075.4],"nice":false,"zero":false},"title":null}},
"layer":[
{"data":{"name":"mainTicks"},"mark":{"type":"rule","color":"#333333","strokeWidth":1},"encoding":{"x":{"field":"a"},"x2":{"field":"b"},"y":{"field":"v","axis":{"disable":false,"orient":"left","offset":-58,"labelPadding":8,"values":[18100,18200,18300,18400,18500,18600,18700,18800,18900,19000,19100,19200,19300,19400,19500,19600,19700,19800,19900,20000],"format":".2f"}}}},
{"data":{"name":"mainTicks"},"mark":{"type":"rule","color":"#333333","strokeWidth":1},"encoding":{"x":{"field":"a"},"x2":{"field":"b"},"y":{"field":"v","axis":{"disable":false,"orient":"right","offset":-57.3,"labelPadding":6,"values":[18100,18200,18300,18400,18500,18600,18700,18800,18900,19000,19100,19200,19300,19400,19500,19600,19700,19800,19900,20000],"format":".2f"}}}},
{"data":{"name":"days"},"mark":{"type":"rule","color":"#333333","strokeWidth":1},"encoding":{"y":null}},
{"data":{"values":[{"v":19742,"a":-2,"b":114.96},{"v":19625,"a":-2,"b":114.96},{"v":19388,"a":-2,"b":114.96}]},"mark":{"type":"rule","color":"#e60000","strokeWidth":2,"strokeDash":[12,10]},"encoding":{"x":{"field":"a"},"x2":{"field":"b"}}},
{"data":{"values":[{"v":19137,"a":-2,"b":114.96}]},"mark":{"type":"rule","color":"#ffff00","strokeWidth":2,"strokeDash":[12,10]},"encoding":{"x":{"field":"a"},"x2":{"field":"b"}}},
{"data":{"values":[{"v":18885,"a":-2,"b":114.96},{"v":18779,"a":-2,"b":114.96},{"v":18701,"a":-2,"b":114.96}]},"mark":{"type":"rule","color":"#007a00","strokeWidth":2,"strokeDash":[12,10]},"encoding":{"x":{"field":"a"},"x2":{"field":"b"}}},
{"data":{"values":[{"v":18371,"a":-2,"b":114.96}]},"mark":{"type":"rule","color":"#b07a00","strokeWidth":2,"strokeDash":[12,10]},"encoding":{"x":{"field":"a"},"x2":{"field":"b"}}},
{"data":{"values":[{"v":18277,"a":-2,"b":115.5}]},"mark":{"type":"rule","color":"#b07a00","strokeWidth":1,"strokeDash":[5,4]},"encoding":{"x":{"field":"a"},"x2":{"field":"b"}}},
{"data":{"values":[{"v":18852,"a":-2,"b":115.5}]},"mark":{"type":"rule","color":"#ff7f00","strokeWidth":2},"encoding":{"x":{"field":"a"},"x2":{"field":"b"}}},
{"data":{"values":[{"v":19170.75,"a":-2,"b":115.5}]},"mark":{"type":"rule","color":"#ffff00","strokeWidth":1,"strokeDash":[2,2]},"encoding":{"x":{"field":"a"},"x2":{"field":"b"}}},
{"data":{"name":"pivots"},"transform":[{"fold":["a","b","c","d","e","f"],"as":["key","v"]}],"mark":{"type":"line","color":"#6e6e6e","strokeWidth":1,"clip":true},"encoding":{"detail":{"field":"key"}}},
{"data":{"name":"channel"},"mark":{"type":"area","color":"#ff00ff","opacity":0.37},"encoding":{"y2":{"field":"v2"}}},
{"data":{"name":"channel"},"mark":{"type":"line","color":"#f6e0f6","strokeWidth":2.5},"encoding":{}},
{"data":{"name":"channel"},"mark":{"type":"line","color":"#f6e0f6","strokeWidth":2.5},"encoding":{"y":{"field":"v2"}}},
{"data":{"name":"blue"},"mark":{"type":"line","color":"#1a0fbf","strokeWidth":3.5},"encoding":{}},
{"data":{"name":"candles"},"mark":{"type":"rule","color":"#cfcfcf","strokeWidth":1},"encoding":{"y":{"field":"l"},"y2":{"field":"h"}}},
{"data":{"name":"candles"},"mark":{"type":"bar","size":10,"strokeWidth":1},"encoding":{"y":{"field":"o"},"y2":{"field":"c"},"color":{"field":"k","type":"nominal","legend":null,"scale":{"domain":["up","down","hi","mag","yel","mar","tw","tk"],"range":["#2e9e3e","#d3201f","#ffff00","#ff00ff","#ffff00","#8b0000","#f0f0f0","#111111"]}},"stroke":{"field":"k","type":"nominal","legend":null,"scale":{"domain":["up","down","hi"],"range":["#7fe27f","#ff9a6a","#b8e040"]}}}},
{"data":{"name":"band"},"mark":{"type":"area","color":"#ffffff","opacity":0.4},"encoding":{"y":{"field":"top"},"y2":{"field":"bot"}}},
{"data":{"name":"band"},"transform":[{"filter":"datum.i<=68"}],"mark":{"type":"line","color":"#e61414","strokeWidth":2.5},"encoding":{"y":{"field":"top"}}},
{"data":{"name":"band"},"transform":[{"filter":"datum.i<=68"}],"mark":{"type":"line","color":"#e61414","strokeWidth":2.5},"encoding":{"y":{"field":"bot"}}},
{"data":{"name":"band"},"transform":[{"filter":"datum.i>=68"}],"mark":{"type":"line","color":"#20a020","strokeWidth":2.5},"encoding":{"y":{"field":"top"}}},
{"data":{"name":"band"},"transform":[{"filter":"datum.i>=68"}],"mark":{"type":"line","color":"#20a020","strokeWidth":2.5},"encoding":{"y":{"field":"bot"}}},
{"data":{"name":"red"},"mark":{"type":"line","color":"#cc0000","strokeWidth":3},"encoding":{}},
{"data":{"name":"green"},"mark":{"type":"line","color":"#20a020","strokeWidth":3},"encoding":{}},
{"data":{"name":"darkArrows"},"mark":{"type":"rule","color":"#600000","strokeWidth":4},"encoding":{"y2":{"field":"v2"}}},
{"data":{"name":"maroon"},"transform":[{"filter":"datum.i<=72"}],"mark":{"type":"line","color":"#5a0000","strokeWidth":3},"encoding":{}},
{"data":{"name":"maroon"},"transform":[{"filter":"datum.i>=72"}],"mark":{"type":"line","color":"#8b0000","strokeWidth":3},"encoding":{}},
{"data":{"name":"magenta"},"transform":[{"filter":"datum.i<=71"}],"mark":{"type":"line","color":"#c810c8","strokeWidth":3},"encoding":{}},
{"data":{"name":"magenta"},"transform":[{"filter":"datum.i>=71"}],"mark":{"type":"line","color":"#ff00ff","strokeWidth":3},"encoding":{}},
{"data":{"name":"upArrows"},"mark":{"type":"rule","color":"#c000c0","strokeWidth":3.5},"encoding":{"y2":{"field":"v2"}}},
{"data":{"name":"upArrows"},"mark":{"type":"point","shape":"triangle-up","filled":true,"opacity":1,"color":"#e000e0","size":50},"encoding":{}},
{"data":{"name":"redArrows"},"mark":{"type":"rule","color":"#ff0000","strokeWidth":6},"encoding":{"y2":{"field":"v2"}}},
{"data":{"name":"redArrows"},"mark":{"type":"point","shape":"triangle-down","filled":true,"opacity":0.75,"color":"#ff5050","size":180},"encoding":{"y":{"field":"v2"}}},
{"data":{"name":"bigGreen"},"mark":{"type":"rule","color":"#00ff00","strokeWidth":6},"encoding":{"y2":{"field":"v2"}}},
{"data":{"name":"bigGreen"},"mark":{"type":"point","shape":"triangle-up","filled":true,"opacity":1,"color":"#00ff00","size":200},"encoding":{}},
{"data":{"name":"smallUp"},"mark":{"type":"rule","color":"#ff00ff","strokeWidth":3},"encoding":{"y2":{"field":"v2"}}},
{"data":{"name":"smallUp"},"mark":{"type":"point","shape":"triangle-up","filled":true,"opacity":1,"color":"#ff00ff","size":70},"encoding":{}},
{"data":{"name":"smallOrange"},"mark":{"type":"rule","color":"#ff8000","strokeWidth":3},"encoding":{"y2":{"field":"v2"}}},
{"data":{"name":"smallOrange"},"mark":{"type":"point","shape":"triangle-up","filled":true,"opacity":1,"color":"#ff8000","size":70},"encoding":{}},
{"data":{"name":"topTri"},"mark":{"type":"point","shape":"triangle-down","filled":true,"opacity":1,"color":"#ff0000","size":110},"encoding":{}},
{"data":{"values":[{"i":69,"v":18195},{"i":70,"v":18195},{"i":71,"v":18195},{"i":72,"v":18195}]},"mark":{"type":"point","shape":"triangle-up","filled":true,"opacity":1,"color":"#00ff00","size":110},"encoding":{}},
{"data":{"name":"arrowGreen"},"mark":{"type":"rule","color":"#00ff00","strokeWidth":2},"encoding":{"x2":{"field":"x2"},"y2":{"field":"v2"}}},
{"data":{"name":"arrowRed"},"mark":{"type":"rule","color":"#ff0000","strokeWidth":2},"encoding":{"x2":{"field":"x2"},"y2":{"field":"v2"}}},
{"data":{"name":"grayText"},"mark":{"type":"text","color":"#b4b4b4","align":"center"},"encoding":{"text":{"field":"t"}}},
{"data":{"name":"vixText"},"mark":{"type":"text","color":"#ff00ff","align":"center"},"encoding":{"text":{"field":"t"}}},
{"data":{"name":"orangeText"},"mark":{"type":"text","color":"#ff8000","align":"center"},"encoding":{"text":{"field":"t"}}},
{"data":{"values":[{"i":-1.43,"v":20029,"t":"FTSE MILANO ITALIA BORSA INDEX, 60, TVC"}]},"mark":{"type":"text","color":"#e6e6e6","align":"left","fontWeight":"bold","fontSize":11}, "encoding":{"text":{"field":"t"}}},
{"data":{"name":"legendMain"},"mark":{"type":"text","color":"#c8c8c8","align":"left","fontSize":12.4},"encoding":{"text":{"field":"t"}}},
{"data":{"name":"mask"},"mark":{"type":"rect","color":"#000000"},"encoding":{"x":{"field":"a"},"x2":{"field":"b"},"y":null}},
{"data":{"name":"edges"},"mark":{"type":"rule","color":"#7a7a7a","strokeWidth":1},"encoding":{"y":null}},
{"data":{"name":"boxes"},"mark":{"type":"rect"},"encoding":{"x":{"field":"a"},"x2":{"field":"b"},"y":{"field":"top"},"y2":{"field":"bot"},"color":{"field":"k","type":"nominal","legend":null}}},
{"data":{"name":"boxText"},"mark":{"type":"text","align":"center","fontSize":11},"encoding":{"text":{"field":"t"},"color":{"field":"k","type":"nominal","legend":null}}}
]},
{"width":1987,"height":159,"view":{"fill":"#000000","stroke":"#7a7a7a"},"resolve":{"scale":{"y":"independent"},"axis":{"y":"independent"}},
"encoding":{"x":{"field":"i","type":"quantitative","scale":{"domain":[-5.684,119.24],"nice":false,"zero":false,"padding":0},"title":null},"y":{"field":"v","type":"quantitative","scale":{"domain":[-80.8,100.9],"nice":false,"zero":false},"title":null}},
"layer":[
{"data":{"values":[{"v":80,"a":-2.037,"b":115.64},{"v":40,"a":-2.037,"b":115.64},{"v":0,"a":-2.037,"b":115.64},{"v":-40,"a":-2.037,"b":115.64},{"v":-80,"a":-2.037,"b":115.64}]},"mark":{"type":"rule","color":"#333333","strokeWidth":1},"encoding":{"x":{"field":"a"},"x2":{"field":"b"},"y":{"field":"v","axis":{"disable":false,"orient":"left","offset":-58,"labelPadding":8,"values":[80,40,0,-40,-80],"labelExpr":"replace(format(datum.value,'.1f'),'−','-')"}}}},
{"data":{"values":[{"v":80,"a":-2.037,"b":115.64},{"v":40,"a":-2.037,"b":115.64},{"v":0,"a":-2.037,"b":115.64},{"v":-40,"a":-2.037,"b":115.64},{"v":-80,"a":-2.037,"b":115.64}]},"mark":{"type":"rule","color":"#333333","strokeWidth":1},"encoding":{"x":{"field":"a"},"x2":{"field":"b"},"y":{"field":"v","axis":{"disable":false,"orient":"right","offset":-57.3,"labelPadding":6,"values":[80,40,0,-40,-80],"labelExpr":"replace(format(datum.value,'.1f'),'−','-')"}}}},
{"data":{"name":"days"},"mark":{"type":"rule","color":"#333333","strokeWidth":1},"encoding":{"y":null}},
{"data":{"name":"lag"},"mark":{"type":"bar","size":15,"clip":true},"encoding":{"y":{"field":"up"},"y2":{"datum":0},"color":{"field":"us","type":"nominal","legend":null,"scale":{"domain":["gray","orange","red","light","dark","bright"],"range":["#555555","#a85a00","#a80000","#808080","#006000","#00a800"]}}}},
{"data":{"name":"lag"},"mark":{"type":"bar","size":15,"clip":true},"encoding":{"y":{"field":"dn"},"y2":{"datum":0},"color":{"field":"ds","type":"nominal","legend":null}}},
{"data":{"values":[{"v":90,"a":-2,"b":72}]},"mark":{"type":"rule","color":"#ff0000","opacity":0.65,"strokeWidth":4},"encoding":{"x":{"field":"a"},"x2":{"field":"b"}}},
{"data":{"values":[{"v":70,"a":-2,"b":72}]},"mark":{"type":"rule","color":"#ff8000","opacity":0.65,"strokeWidth":4},"encoding":{"x":{"field":"a"},"x2":{"field":"b"}}},
{"data":{"values":[{"v":-70,"a":-2,"b":72}]},"mark":{"type":"rule","color":"#006000","opacity":0.95,"strokeWidth":4},"encoding":{"x":{"field":"a"},"x2":{"field":"b"}}},
{"data":{"values":[{"v":0,"a":-2,"b":72}]},"mark":{"type":"rule","color":"#808080","strokeWidth":3},"encoding":{"x":{"field":"a"},"x2":{"field":"b"}}},
{"data":{"name":"lagDots"},"mark":{"type":"point","shape":"circle","filled":true,"opacity":0.9,"color":"#b8b8b8","size":45},"encoding":{}},
{"data":{"values":[{"i":71.4,"x2":79.95,"v":99.4,"v2":1.5},{"i":79.2,"x2":79.95,"v":2.3,"v2":1.5},{"i":79.6,"x2":79.95,"v":14.4,"v2":1.5}]},"mark":{"type":"rule","color":"#ffff00","strokeWidth":2},"encoding":{"x2":{"field":"x2"},"y2":{"field":"v2"}}},
{"data":{"values":[{"i":-1.43,"v":80,"t":"CM_Laguerre PPO PctRank Tops-Bottoms (90, 70, 0.4, 0.8, 200, 200)"}]},"mark":{"type":"text","color":"#c8c8c8","align":"left","fontSize":12.4},"encoding":{"text":{"field":"t"}}},
{"data":{"name":"mask"},"mark":{"type":"rect","color":"#000000"},"encoding":{"x":{"field":"a"},"x2":{"field":"b"},"y":null}},
{"data":{"name":"edges"},"mark":{"type":"rule","color":"#7a7a7a","strokeWidth":1},"encoding":{"y":null}}
]},
{"width":1987,"height":108,"view":{"fill":"#000000","stroke":"#7a7a7a"},"resolve":{"scale":{"y":"independent"},"axis":{"y":"independent"}},
"encoding":{"x":{"field":"i","type":"quantitative","scale":{"domain":[-5.684,119.24],"nice":false,"zero":false},"title":null},"y":{"field":"v","type":"quantitative","scale":{"domain":[-17.7,62.9],"nice":false,"zero":false},"title":null}},
"layer":[
{"data":{"values":[{"v":50,"a":-2.037,"b":115.64},{"v":25,"a":-2.037,"b":115.64},{"v":0,"a":-2.037,"b":115.64}]},"mark":{"type":"rule","color":"#333333","strokeWidth":1},"encoding":{"x":{"field":"a"},"x2":{"field":"b"},"y":{"field":"v","axis":{"disable":false,"orient":"left","offset":-58,"labelPadding":8,"values":[50,25,0],"format":".4f"}}}},
{"data":{"values":[{"v":50,"a":-2.037,"b":115.64},{"v":25,"a":-2.037,"b":115.64},{"v":0,"a":-2.037,"b":115.64}]},"mark":{"type":"rule","color":"#333333","strokeWidth":1},"encoding":{"x":{"field":"a"},"x2":{"field":"b"},"y":{"field":"v","axis":{"disable":false,"orient":"right","offset":-57.3,"labelPadding":6,"values":[50,25,0],"format":".4f"}}}},
{"data":{"name":"days"},"mark":{"type":"rule","color":"#333333","strokeWidth":1},"encoding":{"y":null}},
{"data":{"name":"adxBg"},"mark":{"type":"rect","opacity":0.9},"encoding":{"x":{"field":"a"},"x2":{"field":"b"},"y":null,"color":{"field":"s","type":"nominal","legend":null,"scale":{"domain":["olive","red","green"],"range":["#383200","#300000","#003000"]}}}},
{"data":{"values":[{"v":25,"a":-2,"b":115.0}]},"mark":{"type":"rule","color":"#808080","strokeWidth":2,"strokeDash":[14,9]},"encoding":{"x":{"field":"a"},"x2":{"field":"b"}}},
{"data":{"values":[{"v":20,"a":-2,"b":115.6}]},"mark":{"type":"rule","color":"#909090","strokeWidth":2,"strokeDash":[2,2]},"encoding":{"x":{"field":"a"},"x2":{"field":"b"}}},
{"data":{"name":"adxY"},"mark":{"type":"line","color":"#c8b400","strokeWidth":2},"encoding":{}},
{"data":{"name":"adxM"},"mark":{"type":"line","color":"#c020b0","strokeWidth":2},"encoding":{}},
{"data":{"name":"adx"},"mark":{"type":"line","color":"#c80000","strokeWidth":2},"encoding":{"y":{"field":"r"}}},
{"data":{"name":"adx"},"mark":{"type":"line","color":"#10c810","strokeWidth":2},"encoding":{"y":{"field":"g"}}},
{"data":{"values":[{"i":72,"x2":77.8,"v":39,"v2":46.5},{"i":77.1,"x2":77.8,"v":50.7,"v2":46.5},{"i":77.2,"x2":77.8,"v":41.5,"v2":46.5}]},"mark":{"type":"rule","color":"#ffff00","strokeWidth":2},"encoding":{"x2":{"field":"x2"},"y2":{"field":"v2"}}},
{"data":{"values":[{"i":-1.43,"v":50,"t":"ADX / DMI (14, 14, 20, 40)"}]},"mark":{"type":"text","color":"#c8c8c8","align":"left","fontSize":12.4},"encoding":{"text":{"field":"t"}}},
{"data":{"name":"edges"},"mark":{"type":"rule","color":"#7a7a7a","strokeWidth":1},"encoding":{"y":null}}
]},
{"width":1987,"height":104,"view":{"fill":"#000000","stroke":"#7a7a7a"},"resolve":{"scale":{"y":"independent"},"axis":{"y":"independent"}},
"encoding":{"x":{"field":"i","type":"quantitative","scale":{"domain":[-5.684,119.24],"nice":false,"zero":false},"title":null},"y":{"field":"v","type":"quantitative","scale":{"domain":[-3.33,2.88],"nice":false,"zero":false},"title":null}},
"layer":[
{"data":{"values":[{"v":2,"a":-2.037,"b":115.64},{"v":0,"a":-2.037,"b":115.64},{"v":-2,"a":-2.037,"b":115.64}]},"mark":{"type":"rule","color":"#333333","strokeWidth":1},"encoding":{"x":{"field":"a"},"x2":{"field":"b"},"y":{"field":"v","axis":{"disable":false,"orient":"left","offset":-58,"labelPadding":8,"values":[2,0,-2],"labelExpr":"replace(format(datum.value,'.4f'),'−','-')"}}}},
{"data":{"values":[{"v":2,"a":-2.037,"b":115.64},{"v":0,"a":-2.037,"b":115.64},{"v":-2,"a":-2.037,"b":115.64}]},"mark":{"type":"rule","color":"#333333","strokeWidth":1},"encoding":{"x":{"field":"a"},"x2":{"field":"b"},"y":{"field":"v","axis":{"disable":false,"orient":"right","offset":-57.3,"labelPadding":6,"values":[2,0,-2],"labelExpr":"replace(format(datum.value,'.4f'),'−','-')"}}}},
{"data":{"name":"days"},"mark":{"type":"rule","color":"#333333","strokeWidth":1},"encoding":{"y":null}},
{"data":{"values":[{"v":0,"a":-2,"b":115.5}]},"mark":{"type":"rule","color":"#a0a0a0","strokeWidth":1,"strokeDash":[6,4]},"encoding":{"x":{"field":"a"},"x2":{"field":"b"}}},
{"data":{"name":"fisher"},"mark":{"type":"line","color":"#00ff00","strokeWidth":2},"encoding":{"y":{"field":"g"}}},
{"data":{"name":"fisher"},"mark":{"type":"line","color":"#ff0000","strokeWidth":2},"encoding":{"y":{"field":"r"}}},
{"data":{"values":[{"i":72,"x2":77.8,"v":1.89,"v2":0.44},{"i":77.2,"x2":77.8,"v":0.88,"v2":0.44},{"i":77.1,"x2":77.8,"v":0.24,"v2":0.44}]},"mark":{"type":"rule","color":"#ffff00","strokeWidth":2},"encoding":{"x2":{"field":"x2"},"y2":{"field":"v2"}}},
{"data":{"values":[{"i":-1.43,"v":1.83,"t":"Fisher (9)"}]},"mark":{"type":"text","color":"#c8c8c8","align":"left","fontSize":12.4},"encoding":{"text":{"field":"t"}}},
{"data":{"name":"edges"},"mark":{"type":"rule","color":"#7a7a7a","strokeWidth":1},"encoding":{"y":null}}
]},
{"width":1987,"height":69,"view":{"fill":"#000000","stroke":"#7a7a7a"},"resolve":{"scale":{"y":"independent"},"axis":{"y":"independent"}},
"encoding":{"x":{"field":"i","type":"quantitative","scale":{"domain":[-5.684,119.24],"nice":false,"zero":false},"title":null},"y":{"field":"v","type":"quantitative","scale":{"domain":[-3.5,1.26],"nice":false,"zero":false},"title":null}},
"layer":[
{"data":{"values":[{"v":0,"a":-2.037,"b":115.64},{"v":-2,"a":-2.037,"b":115.64}]},"mark":{"type":"rule","color":"#333333","strokeWidth":1},"encoding":{"x":{"field":"a"},"x2":{"field":"b"},"y":{"field":"v","axis":{"disable":false,"orient":"left","offset":-58,"labelPadding":8,"values":[0,-2],"labelExpr":"replace(format(datum.value,'.4f'),'−','-')"}}}},
{"data":{"values":[{"v":0,"a":-2.037,"b":115.64},{"v":-2,"a":-2.037,"b":115.64}]},"mark":{"type":"rule","color":"#333333","strokeWidth":1},"encoding":{"x":{"field":"a"},"x2":{"field":"b"},"y":{"field":"v","axis":{"disable":false,"orient":"right","offset":-57.3,"labelPadding":6,"values":[0,-2],"labelExpr":"replace(format(datum.value,'.4f'),'−','-')"}}}},
{"data":{"name":"days"},"mark":{"type":"rule","color":"#333333","strokeWidth":1},"encoding":{"y":null}},
{"data":{"values":[{"v":0,"a":-2,"b":72}]},"mark":{"type":"rule","color":"#e06060","strokeWidth":3},"encoding":{"x":{"field":"a"},"x2":{"field":"b"}}},
{"data":{"name":"wvf"},"mark":{"type":"line","color":"#555555","strokeWidth":3.5},"encoding":{}},
{"data":{"name":"wvfG"},"mark":{"type":"line","color":"#10a010","strokeWidth":3.5},"encoding":{"detail":{"field":"s"}}},
{"data":{"values":[{"i":-1.43,"v":0,"t":"CM_WVF_V3_Ult (22, 20, 2, 50, 0.85, 40, 14, 3)"}]},"mark":{"type":"text","color":"#b0b0b0","align":"left","fontSize":12.4},"encoding":{"text":{"field":"t"}}},
{"data":{"name":"edges"},"mark":{"type":"rule","color":"#7a7a7a","strokeWidth":1},"encoding":{"y":null}}
]},
{"width":1987,"height":25,"view":{"fill":"#000000","stroke":"#7a7a7a"},
"data":{"name":"days"},"mark":{"type":"rule","opacity":0},
"encoding":{"x":{"field":"i","type":"quantitative","scale":{"domain":[-5.684,119.24],"nice":false,"zero":false},"title":null,"axis":{"disable":false,"orient":"bottom","offset":-25,"values":[0,9,18,27,36,45,54,63,72,81,90,99,108],"ticks":true,"tickSize":3,"tickColor":"#777777","labelPadding":3,"labelFontSize":12,"labelOffset":-1,"labelExpr":"{'0':'15','9':'16','18':'19','27':'20','36':'21','45':'22','54':'23','63':'26','72':'27','81':'28','90':'29','99':'30','108':'Dic'}[datum.value]","labelFontWeight":{"condition":{"test":"datum.value==108","value":"bold"},"value":"normal"}}}}},
{"width":1987,"height":36,"view":{"stroke":null,"fill":null},
"encoding":{"x":{"field":"i","type":"quantitative","scale":{"domain":[-5.684,119.24],"nice":false,"zero":false},"title":null},"y":{"field":"v","type":"quantitative","scale":{"domain":[36,0],"nice":false,"zero":false},"title":null}},
"layer":[
{"data":{"values":[{"i":-5.66,"v":20,"t":"Creato con"}]},"mark":{"type":"text","align":"left","color":"#333333","fontSize":12.5},"encoding":{"text":{"field":"t"}}},
{"data":{"values":[{"i":0.59,"v":20,"t":"TradingView"}]},"mark":{"type":"text","align":"left","color":"#3fb4e8","fontSize":12.5},"encoding":{"text":{"field":"t"}}},
{"data":{"values":[{"i":-0.62,"v":19}]},"mark":{"type":"point","filled":true,"opacity":1,"color":"#5bb8e6","size":480,"shape":"M-1 0.7 L-0.95 -0.1 L-0.5 -0.5 L-0.1 0.1 L0.35 -0.8 L1 0.1 L0.85 0.7 Z"},"encoding":{}}
]}
]}
